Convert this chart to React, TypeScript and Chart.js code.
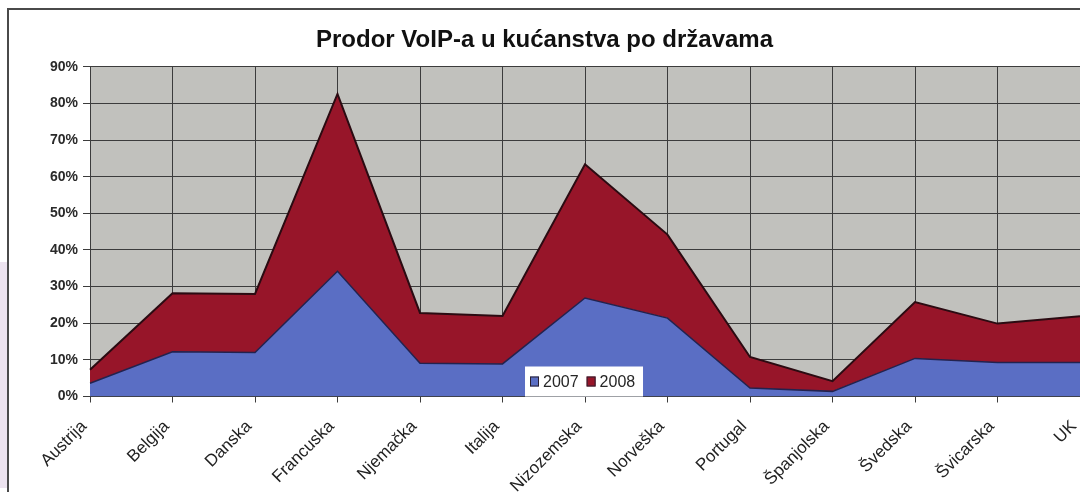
import React, { useEffect, useRef } from "react";
import { Chart, registerables } from "chart.js";

Chart.register(...registerables);

const titleText = "Prodor VoIP-a u kućanstva po državama";
const categories = [
  "Austrija",
  "Belgija",
  "Danska",
  "Francuska",
  "Njemačka",
  "Italija",
  "Nizozemska",
  "Norveška",
  "Portugal",
  "Španjolska",
  "Švedska",
  "Švicarska",
  "UK",
];
const seriesLabels = ["2007", "2008"];
const values2007 = [3.6, 12.2, 12, 34.2, 9.1, 8.9, 26.9, 21.4, 2.3, 1.4, 10.4, 9.3, 9.3];
const values2008 = [3.7, 16.0, 16, 48.4, 13.7, 13.1, 36.5, 22.8, 8.5, 2.8, 15.4, 10.6, 12.6];
const yMin = 0;
const yMax = 90;
const yStep = 10;

const FONT = "'Liberation Sans', Arial, Helvetica, sans-serif";
const COLOR_2007 = "#5a6ec4";
const COLOR_2008 = "#971529";

const plotBgPlugin = {
  id: "plotBg",
  beforeDraw(chart: any) {
    const { ctx, chartArea } = chart;
    if (!chartArea) return;
    ctx.save();
    ctx.fillStyle = "#c1c1bd";
    ctx.fillRect(chartArea.left, chartArea.top, chartArea.right - chartArea.left, chartArea.bottom - chartArea.top);
    ctx.restore();
  },
};

const insideLegendPlugin = {
  id: "insideLegend",
  afterDatasetsDraw(chart: any) {
    const { ctx, chartArea } = chart;
    const w = chartArea.right - chartArea.left;
    const left = chartArea.left + w * 0.4394;
    const right = chartArea.left + w * 0.5586;
    const bottom = chartArea.bottom;
    const top = bottom - 30;
    ctx.save();
    ctx.fillStyle = "#ffffff";
    ctx.fillRect(left, top, right - left, bottom - top);
    const cy = top + 15;
    ctx.font = `16px ${FONT}`;
    ctx.textBaseline = "middle";
    ctx.textAlign = "left";
    let x = left + 5;
    chart.data.datasets.forEach((ds: any) => {
      ctx.fillStyle = ds.backgroundColor;
      ctx.fillRect(x, cy - 5, 9, 10);
      ctx.strokeStyle = "#2a2030";
      ctx.lineWidth = 1;
      ctx.strokeRect(x + 0.5, cy - 4.5, 8, 9);
      x += 13;
      ctx.fillStyle = "#262626";
      ctx.fillText(ds.label, x, cy + 1);
      x += ctx.measureText(ds.label).width + 8;
    });
    ctx.restore();
  },
};

export default function App() {
  const canvasRef = useRef<HTMLCanvasElement | null>(null);

  useEffect(() => {
    const canvas = canvasRef.current;
    if (!canvas) return;
    const chart = new Chart(canvas, {
      type: "line",
      data: {
        labels: categories,
        datasets: [
          {
            label: seriesLabels[0],
            data: values2007,
            backgroundColor: COLOR_2007,
            borderColor: "#23224e",
            borderWidth: 1.5,
            fill: "origin",
            pointRadius: 0,
            tension: 0,
          },
          {
            label: seriesLabels[1],
            data: values2008,
            backgroundColor: COLOR_2008,
            borderColor: "#2b0b12",
            borderWidth: 2,
            fill: "-1",
            pointRadius: 0,
            tension: 0,
          },
        ],
      },
      options: {
        animation: false,
        responsive: false,
        devicePixelRatio: 1,
        layout: { padding: { left: 0, right: 29, top: 0, bottom: 0 } },
        plugins: {
          legend: { display: false },
          tooltip: { enabled: false },
          title: {
            display: true,
            text: titleText,
            color: "#111111",
            font: { family: FONT, size: 24, weight: "bold" },
            padding: { top: 16, bottom: 12 },
          },
        },
        scales: {
          x: {
            offset: false,
            grid: { color: "#3c3c3c", lineWidth: 1, tickLength: 6, drawTicks: true },
            border: { display: true, color: "#3c3c3c" },
            ticks: {
              autoSkip: false,
              minRotation: 45,
              maxRotation: 45,
              padding: 14,
              labelOffset: -6,
              color: "#222222",
              font: { family: FONT, size: 17 },
            },
            afterFit(scale: any) {
              scale.height = 103.5;
            },
          },
          y: {
            stacked: true,
            min: yMin,
            max: yMax,
            grid: { color: "#3c3c3c", lineWidth: 1, tickLength: 7, drawTicks: true },
            border: { display: true, color: "#3c3c3c" },
            ticks: {
              stepSize: yStep,
              padding: 5,
              color: "#2a2a2a",
              font: { family: FONT, size: 14, weight: "bold" },
              callback: (v: any) => `${v}%`,
            },
            afterFit(scale: any) {
              scale.width = 81;
            },
          },
        },
      },
      plugins: [plotBgPlugin, insideLegendPlugin],
    });
    return () => chart.destroy();
  }, []);

  return (
    <div
      style={{
        position: "absolute",
        left: 0,
        top: 0,
        width: 1080,
        height: 492,
        overflow: "hidden",
        background: "#ffffff",
      }}
    >
      <div
        style={{
          position: "absolute",
          left: 0,
          top: 262,
          width: 7,
          height: 226,
          background: "#ece3ef",
        }}
      />
      <div
        style={{
          position: "absolute",
          left: 7,
          top: 8,
          width: 1110,
          height: 520,
          borderLeft: "2px solid #4a4a4a",
          borderTop: "2px solid #4a4a4a",
          background: "#ffffff",
        }}
      >
        <canvas
          ref={canvasRef}
          width={1100}
          height={490}
          style={{ position: "absolute", left: 0, top: 0 }}
        />
      </div>
    </div>
  );
}
